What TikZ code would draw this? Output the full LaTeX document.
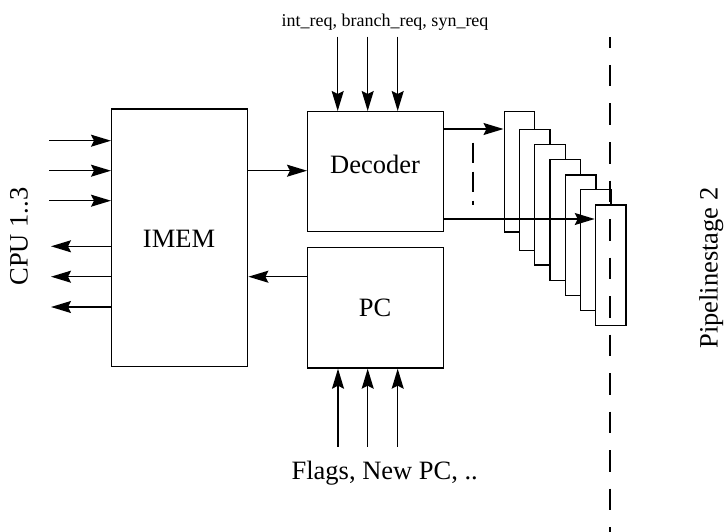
\documentclass[tikz,border=0pt]{standalone}
\usepackage{fontspec}
\setmainfont{Liberation Serif}
\usetikzlibrary{arrows.meta}
\begin{document}
\begin{tikzpicture}[x=1pt,y=-1pt,line width=1.4pt,
  box/.style={draw,rectangle,inner sep=0pt,anchor=north west},
  reg/.style={box,fill=white,minimum width=30.5pt,minimum height=120.7pt},
  arr/.style={-{Stealth[length=20pt,width=12pt,inset=3pt]}},
  big/.style={font=\fontsize{26.5}{30}\selectfont,inner sep=0pt},
  small/.style={font=\fontsize{18}{21}\selectfont,inner sep=0pt},
  dashmain/.style={dash pattern=on 21.5pt off 17pt,dash phase=10.8pt},
  dashsmall/.style={dash pattern=on 20pt off 9pt}]
\useasboundingbox (0,0) rectangle (725,532);
% main boxes
\node[box,minimum width=136pt,minimum height=257.4pt] (imem) at (111,108.3) {};
\node[box,minimum width=136pt,minimum height=120pt] (dec) at (307,111) {};
\node[box,minimum width=136pt,minimum height=120.6pt] (pc) at (307,246.7) {};
% labels
\node[big,anchor=base] (imemt) at (179,247.3) {IMEM};
\node[big,anchor=base] (dect) at (375,173.3) {Decoder};
\node[big,anchor=base] (pct) at (375,316) {PC};
\node[big,anchor=base] (flags) at (384.7,479.3) {Flags, New PC, ..};
\node[small,anchor=base] (req) at (385,27) {int\_req, branch\_req, syn\_req};
\node[big,anchor=base,rotate=90] (cpu) at (27.7,236.5) {CPU 1..3};
\node[big,anchor=base,rotate=90] (pipe) at (717.5,268) {Pipelinestage 2};
% register stack
\node[reg] (r1) at (503.5,110.7) {};
\node[reg] (r2) at (518.7,129) {};
\node[reg] (r3) at (534,143.7) {};
\node[reg] (r4) at (549.3,159) {};
\node[reg] (r5) at (564.7,174.3) {};
\node[reg] (r6) at (579.7,189) {};
\node[reg] (r7) at (594.7,204.3) {};
% free ends
\coordinate (i1) at (49,140.7);
\coordinate (i2) at (49,170.7);
\coordinate (i3) at (49,200.7);
\coordinate (o1) at (51,246.3);
\coordinate (o2) at (51,276.7);
\coordinate (o3) at (51,307);
\coordinate (t1) at (337.7,36.7);
\coordinate (t2) at (367.7,36.7);
\coordinate (t3) at (397.7,36.7);
\coordinate (b1) at (338,446.7);
\coordinate (b2) at (367.7,446.7);
\coordinate (b3) at (397.7,446.7);
\coordinate (lo) at (500,219);
\coordinate (ds1) at (473,142.7);
\coordinate (ds2) at (473,205);
\coordinate (dm1) at (610,37.3);
\coordinate (dm2) at (610,532);
% CPU connections
\draw[arr] (i1) -- (i1 -| imem.west);
\draw[arr] (i2) -- (i2 -| imem.west);
\draw[arr] (i3) -- (i3 -| imem.west);
\draw[arr] (o1 -| imem.west) -- (o1);
\draw[arr] (o2 -| imem.west) -- (o2);
\draw[arr] (o3 -| imem.west) -- (o3);
% IMEM <-> decoder / PC
\draw[arr] (i2 -| imem.east) -- (i2 -| dec.west);
\draw[arr] (o2 -| pc.west) -- (o2 -| imem.east);
% request inputs
\draw[arr] (t1) -- (t1 |- dec.north);
\draw[arr] (t2) -- (t2 |- dec.north);
\draw[arr] (t3) -- (t3 |- dec.north);
% PC inputs
\draw[arr] (b1) -- (b1 |- pc.south);
\draw[arr] (b2) -- (b2 |- pc.south);
\draw[arr] (b3) -- (b3 |- pc.south);
% decoder outputs
\draw[arr] (r2.north -| dec.east) -- (r2.north -| r1.west);
\draw[arr] (lo -| dec.east) -- (lo -| r7.west);
% dashed lines
\draw[dashsmall] (ds1) -- (ds2);
\draw[dashmain] (dm1) -- (dm2);
\end{tikzpicture}
\end{document}
